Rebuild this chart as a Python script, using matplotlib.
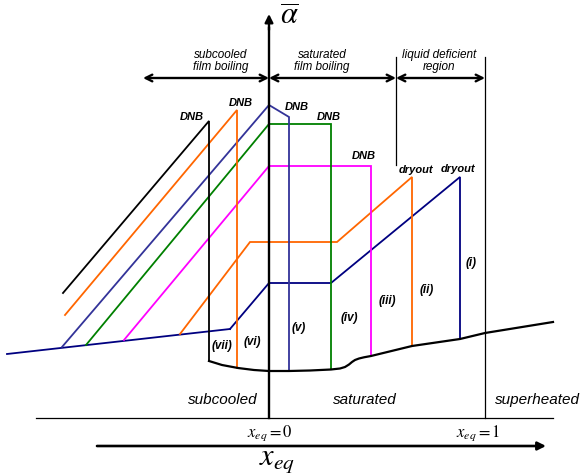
import matplotlib
matplotlib.use("Agg")
import matplotlib.pyplot as plt

plt.rcParams['font.family'] = ['Liberation Sans', 'DejaVu Sans']
plt.rcParams['mathtext.fontset'] = 'stix'

# schematic drawn in picture units (x right, y down)
base_x = [7, 230]
base_y = [354, 329]

c1_x = [230, 269, 331, 460, 460]          # (i)
c1_y = [329, 283, 283, 177, 339]
c2_x = [180, 250, 337, 412, 412]          # (ii)
c2_y = [334, 242, 242, 177, 346]
c3_x = [124, 269, 371, 371]               # (iii)
c3_y = [340, 166, 166, 356]
c4_x = [86, 269, 331, 331]                # (iv)
c4_y = [345, 124, 124, 369]
c5_x = [62, 269, 289, 289]                # (v)
c5_y = [347, 105, 117, 371]
c6_x = [65, 237, 237]                     # (vi)
c6_y = [315, 110, 368]
c7_x = [63, 209, 209]                     # (vii)
c7_y = [293, 121, 361]

wall_x = [209, 222, 238, 254, 269, 289, 310, 331, 340, 345, 349, 352, 355, 359, 364, 371, 412, 460, 485, 553]
wall_y = [361, 365, 368, 370, 371, 371, 370.5, 369.5, 368.5, 367, 364.5, 362, 360, 358.5, 357.3, 356, 346, 339, 333, 322]

curves = [
    (base_x, base_y, '#000080'),
    (c1_x, c1_y, '#000080'),
    (c2_x, c2_y, '#FF6600'),
    (c3_x, c3_y, '#FF00FF'),
    (c4_x, c4_y, '#008000'),
    (c5_x, c5_y, '#333399'),
    (c6_x, c6_y, '#FF6600'),
    (c7_x, c7_y, 'black'),
]

case_labels = ['(i)', '(ii)', '(iii)', '(iv)', '(v)', '(vi)', '(vii)']
case_x = [471, 427, 387, 349, 299, 252, 222]
case_y = [263, 290, 301, 318, 328, 342, 346]

peak_labels = ['DNB', 'DNB', 'DNB', 'DNB', 'DNB', 'dryout', 'dryout']
peak_x = [192, 241, 297, 329, 364, 416, 458]
peak_y = [117, 103, 107, 117, 156, 170, 169]

region_labels = ['subcooled\nfilm boiling', 'saturated\nfilm boiling', 'liquid deficient\nregion']
region_x = [221, 322, 439]
arrow_ends = [(143, 269), (269, 396), (396, 485)]

zone_labels = ['subcooled', 'saturated', 'superheated']
zone_x = [223, 365, 537]

fig = plt.figure(figsize=(5.82, 4.74), dpi=100)
ax = fig.add_axes([0, 0, 1, 1])
ax.set_xlim(0, 582)
ax.set_ylim(474, 0)
ax.axis('off')

for xs, ys, col in curves:
    ax.plot(xs, ys, color=col, lw=1.3, solid_joinstyle='miter')
ax.plot(wall_x, wall_y, color='black', lw=1.6)

# axes and region boundaries
ax.plot([36, 553], [418, 418], color='black', lw=0.9)
ax.plot([269, 269], [418, 28], color='black', lw=1.7)
ax.annotate('', xy=(269, 14), xytext=(269, 30),
            arrowprops=dict(arrowstyle='-|>', color='black', lw=1.7, mutation_scale=12,
                            shrinkA=0, shrinkB=0))
ax.plot([485, 485], [57, 418], color='black', lw=0.9)
ax.plot([396, 396], [57, 165], color='black', lw=0.9)
ax.annotate('', xy=(546, 446), xytext=(97, 446),
            arrowprops=dict(arrowstyle='-|>', color='black', lw=1.9, mutation_scale=12,
                            shrinkA=0, shrinkB=0))

for (a, b), lab, cx in zip(arrow_ends, region_labels, region_x):
    ax.annotate('', xy=(a, 78), xytext=(b, 78),
                arrowprops=dict(arrowstyle='<->', color='black', lw=1.7, mutation_scale=12,
                                shrinkA=0, shrinkB=0))
    ax.text(cx, 61, lab, ha='center', va='center', fontsize=8.5, style='italic',
            linespacing=1.0)

for lab, x, y in zip(case_labels, case_x, case_y):
    ax.text(x, y, lab, ha='center', va='center', fontsize=8.5, style='italic', weight='bold')

for lab, x, y in zip(peak_labels, peak_x, peak_y):
    ax.text(x, y, lab, ha='center', va='center', fontsize=8, style='italic', weight='bold')

for lab, x in zip(zone_labels, zone_x):
    ax.text(x, 400, lab, ha='center', va='center', fontsize=11, style='italic')

ax.text(289, 17, r'$\overline{\alpha}$', ha='center', va='center', fontsize=22)
ax.text(270, 433, r'$x_{eq}=0$', ha='center', va='center', fontsize=12)
ax.text(478, 433, r'$x_{eq}=1$', ha='center', va='center', fontsize=12)
ax.text(277, 460, r'$x_{eq}$', ha='center', va='center', fontsize=22)

fig.savefig('out.png', dpi=100)
